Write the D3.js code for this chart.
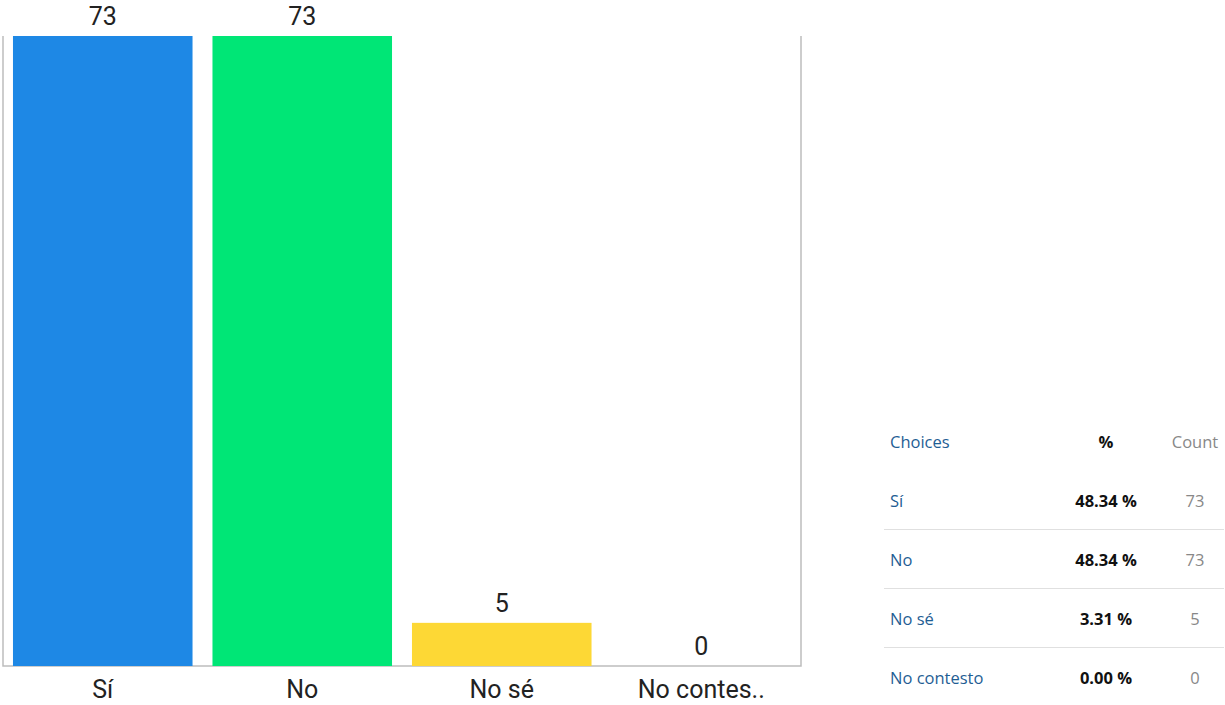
<!DOCTYPE html>
<html>
<head>
<meta charset="utf-8">
<script src="https://cdn.jsdelivr.net/npm/d3@7"></script>
<style>
  body { margin: 0; background: #fff; }
  svg { display: block; }
</style>
</head>
<body>
<script>
// data
const choices = ["Sí", "No", "No sé", "No contesto"];
const axisLabels = ["Sí", "No", "No sé", "No contes.."];
const counts = [73, 73, 5, 0];
const percents = ["48.34 %", "48.34 %", "3.31 %", "0.00 %"];
const barColors = ["#1e88e5", "#00e676", "#fdd835", "#9e9e9e"];

const W = 1225, H = 705;
const plot = { left: 3, right: 801, top: 36, bottom: 666 };

const svg = d3.select("body").append("svg")
    .attr("width", W)
    .attr("height", H);

const x = d3.scaleBand()
    .domain(d3.range(choices.length))
    .range([plot.left, plot.right])
    .paddingInner(0.1)
    .paddingOuter(0.05);

const y = d3.scaleLinear()
    .domain([0, d3.max(counts)])
    .range([plot.bottom, plot.top]);

// frame lines (left, right, bottom)
svg.append("path")
    .attr("d", `M${plot.left},${plot.top}V${plot.bottom}H${plot.right}V${plot.top}`)
    .attr("fill", "none")
    .attr("stroke", "#bdbdbd")
    .attr("stroke-width", 1.5);

// bars
svg.append("g").selectAll("rect")
    .data(counts)
    .enter()
    .append("rect")
    .attr("x", (d, i) => x(i))
    .attr("y", d => y(d))
    .attr("width", x.bandwidth())
    .attr("height", d => plot.bottom - y(d))
    .attr("fill", (d, i) => barColors[i]);

// value labels
svg.append("g").selectAll("text")
    .data(counts)
    .enter()
    .append("text")
    .attr("x", (d, i) => x(i) + x.bandwidth() / 2)
    .attr("y", d => y(d) - 11)
    .attr("text-anchor", "middle")
    .attr("font-family", "Roboto, Arial, sans-serif")
    .attr("font-size", 25)
    .attr("fill", "#222")
    .text(d => d);

// category labels
svg.append("g").selectAll("text")
    .data(axisLabels)
    .enter()
    .append("text")
    .attr("x", (d, i) => x(i) + x.bandwidth() / 2)
    .attr("y", 698)
    .attr("text-anchor", "middle")
    .attr("font-family", "Roboto, Arial, sans-serif")
    .attr("font-size", 25)
    .attr("fill", "#222")
    .text(d => d);

// table on the right
const tbl = { left: 884, right: 1224, col1: 890, col2: 1106, col3: 1195, header: 442, row0: 501, rowH: 59 };
const font = "'Open Sans', 'Noto Sans', sans-serif";

const head = svg.append("g").attr("font-family", font).attr("font-size", 16.5);
head.append("text").attr("x", tbl.col1).attr("y", tbl.header).attr("dy", "0.35em")
    .attr("fill", "#1f5e94").text("Choices");
head.append("text").attr("x", tbl.col2).attr("y", tbl.header).attr("dy", "0.35em")
    .attr("text-anchor", "middle").attr("font-weight", "bold").attr("fill", "#111").text("%");
head.append("text").attr("x", tbl.col3).attr("y", tbl.header).attr("dy", "0.35em")
    .attr("text-anchor", "middle").attr("fill", "#888").text("Count");

const rows = svg.append("g").attr("font-family", font).attr("font-size", 16.5)
    .selectAll("g")
    .data(choices)
    .enter()
    .append("g")
    .attr("transform", (d, i) => `translate(0,${tbl.row0 + i * tbl.rowH})`);

rows.append("text").attr("x", tbl.col1).attr("dy", "0.35em")
    .attr("fill", "#1f5e94").text(d => d);
rows.append("text").attr("x", tbl.col2).attr("dy", "0.35em")
    .attr("text-anchor", "middle").attr("font-weight", "bold").attr("fill", "#111")
    .text((d, i) => percents[i]);
rows.append("text").attr("x", tbl.col3).attr("dy", "0.35em")
    .attr("text-anchor", "middle").attr("fill", "#888")
    .text((d, i) => counts[i]);
rows.filter((d, i) => i < choices.length - 1)
    .append("line")
    .attr("x1", tbl.left).attr("x2", tbl.right)
    .attr("y1", tbl.rowH / 2 - 1).attr("y2", tbl.rowH / 2 - 1)
    .attr("stroke", "#e0e0e0");
</script>
</body>
</html>
